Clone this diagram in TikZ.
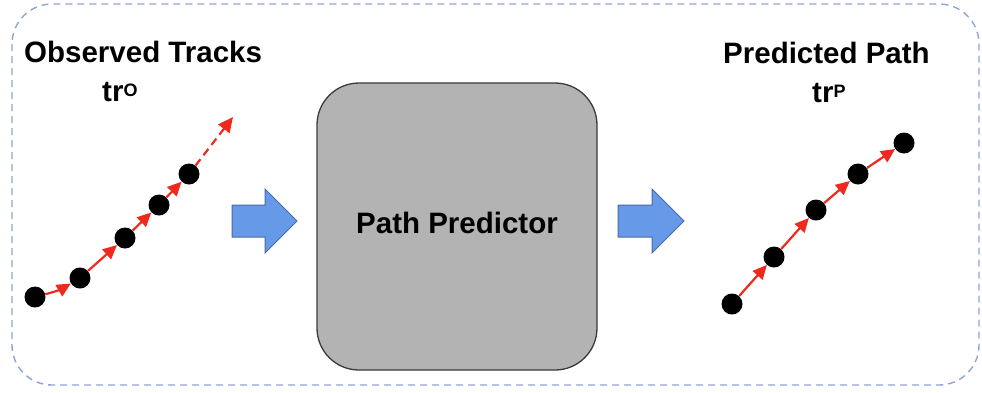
\documentclass[tikz,border=0pt]{standalone}
\usepackage{fontspec}
\setmainfont{Liberation Sans}
\usetikzlibrary{arrows.meta}

\definecolor{framecol}{HTML}{8FA3D6}
\definecolor{boxfill}{HTML}{B3B3B3}
\definecolor{boxline}{HTML}{3A3A3A}
\definecolor{trackred}{HTML}{EE2A1E}
\definecolor{flowfill}{HTML}{6699E8}
\definecolor{flowline}{HTML}{4A6AA8}

\tikzset{
  frame/.style={draw=framecol, line width=1.4pt, dash pattern=on 7pt off 5pt, rounded corners=40pt},
  predictor/.style={draw=boxline, fill=boxfill, line width=1.3pt, rounded corners=42pt},
  title/.style={inner sep=0pt, anchor=base west, font=\fontsize{29.5}{32}\selectfont\bfseries},
  dot/.style={circle, fill=black, inner sep=0pt, minimum size=21pt},
  track/.style={draw=trackred, line width=2.2pt, -{Triangle[length=14pt,width=13pt]}},
  guess/.style={track, dash pattern=on 8pt off 5pt, -{Triangle[length=15pt,width=14pt]}},
  flow/.style={draw=flowline, fill=flowfill, line width=1pt, line join=miter}
}
\newcommand{\supmark}[1]{\raisebox{4.5pt}{\fontsize{18}{19}\selectfont #1}}

\begin{document}
\begin{tikzpicture}[x=1pt, y=-1pt]
  \useasboundingbox (0,0) rectangle (982,392);

  % dashed outer frame
  \draw[frame] (12,4) rectangle (979,385);

  % central processing block
  \draw[predictor] (317,83) rectangle (597,370);
  \node[inner sep=0pt, font=\fontsize{29.5}{32}\selectfont\bfseries] (pp) at (457,223) {Path Predictor};

  % headings
  \node[title] (obs) at (24,62) {Observed Tracks};
  \node[title] (trO) at (102,101) {tr\supmark{O}};
  \node[title] (pred) at (723,63) {Predicted Path};
  \node[title] (trP) at (812,102) {tr\supmark{P}};

  % observed track points
  \node[dot] (o1) at (35,297) {};
  \node[dot] (o2) at (80,278) {};
  \node[dot] (o3) at (125,238) {};
  \node[dot] (o4) at (159,205) {};
  \node[dot] (o5) at (189,174) {};
  \coordinate (onext) at (233,117);
  \draw[track] (o1) to[bend right=8] (o2);
  \draw[track] (o2) -- (o3);
  \draw[track] (o3) -- (o4);
  \draw[track] (o4) -- (o5);
  \draw[guess] (o5) -- (onext);

  % predicted track points
  \node[dot] (p1) at (732,304) {};
  \node[dot] (p2) at (774,257) {};
  \node[dot] (p3) at (816,210) {};
  \node[dot] (p4) at (858,174) {};
  \node[dot] (p5) at (904,143) {};
  \draw[track] (p1) -- (p2);
  \draw[track] (p2) -- (p3);
  \draw[track] (p3) -- (p4);
  \draw[track] (p4) -- (p5);

  % block arrows into and out of the predictor
  \draw[flow] (232,205) -- (265,205) -- (265,189) -- (297,221) -- (265,253) -- (265,237) -- (232,237) -- cycle;
  \draw[flow] (618,205) -- (652,205) -- (652,189) -- (684,221) -- (652,253) -- (652,237) -- (618,237) -- cycle;
\end{tikzpicture}
\end{document}
